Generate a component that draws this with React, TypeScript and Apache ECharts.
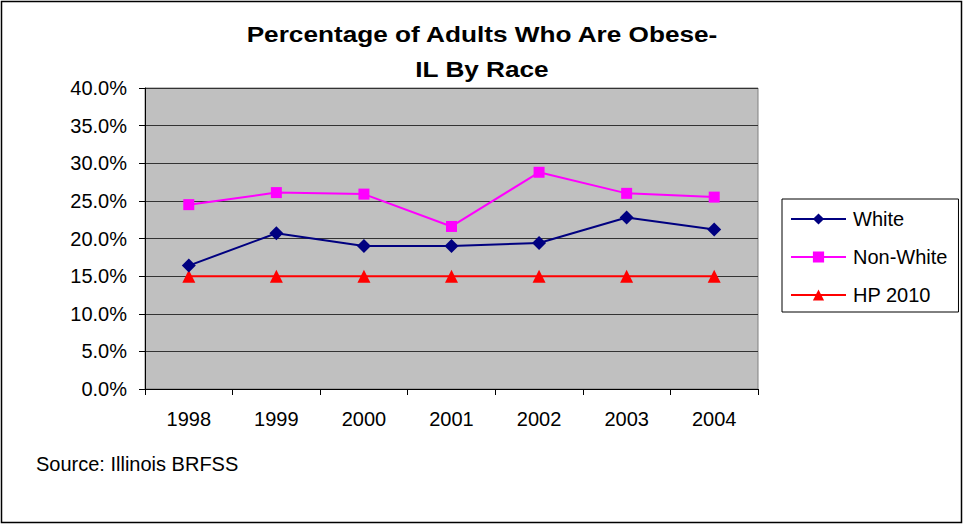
import React, { useEffect, useRef } from "react";
import * as echarts from "echarts";

const years = ["1998", "1999", "2000", "2001", "2002", "2003", "2004"];
const white = [16.4, 20.7, 19.0, 19.0, 19.4, 22.8, 21.2];
const nonWhite = [24.5, 26.1, 25.9, 21.6, 28.8, 26.0, 25.5];
const hp2010 = [15.0, 15.0, 15.0, 15.0, 15.0, 15.0, 15.0];
const titleLines = ["Percentage of Adults Who Are Obese-", "IL By Race"];
const sourceNote = "Source: Illinois BRFSS";

const FONT = "'Liberation Sans', Arial, sans-serif";

export default function App() {
  const ref = useRef<HTMLDivElement>(null);
  useEffect(() => {
    if (!ref.current) return;
    const chart = echarts.init(ref.current, undefined, { renderer: "svg" });
    chart.setOption({
      animation: false,
      backgroundColor: "#ffffff",
      textStyle: { fontFamily: FONT },
      graphic: [
        {
          type: "rect",
          shape: { x: 1.5, y: 1.5, width: 960, height: 521 },
          style: { fill: "none", stroke: "#000", lineWidth: 1.5 },
          silent: true,
        },
        ...titleLines.map((t, i) => ({
          type: "text",
          x: 482,
          y: 34 + i * 35,
          scaleX: 1.19,
          style: {
            text: t,
            font: `bold 22px ${FONT}`,
            fill: "#000",
            textAlign: "center",
            textVerticalAlign: "middle",
          },
        })),
        {
          type: "text",
          x: 36,
          y: 464,
          style: {
            text: sourceNote,
            font: `20px ${FONT}`,
            fill: "#000",
            textVerticalAlign: "middle",
          },
        },
      ],
      legend: {
        orient: "vertical",
        left: 782,
        top: 199,
        padding: [10, 11, 7, 8],
        itemGap: 18,
        itemWidth: 55,
        itemHeight: 14,
        borderColor: "#000",
        borderWidth: 1,
        backgroundColor: "#fff",
        textStyle: { fontFamily: FONT, fontSize: 20, color: "#000", padding: [0, 0, 0, 2] },
        data: ["White", "Non-White", "HP 2010"],
      },
      grid: {
        left: 145,
        top: 88,
        right: 206,
        bottom: 136,
        show: true,
        backgroundColor: "#c0c0c0",
        borderColor: "#808080",
        borderWidth: 1,
      },
      xAxis: {
        type: "category",
        data: years,
        boundaryGap: true,
        axisLine: { lineStyle: { color: "#000", width: 1 } },
        axisTick: { show: true, inside: false, length: 6, lineStyle: { color: "#000" } },
        axisLabel: { fontFamily: FONT, fontSize: 20, color: "#000", margin: 20 },
      },
      yAxis: {
        type: "value",
        min: 0,
        max: 40,
        interval: 5,
        axisLine: { show: true, lineStyle: { color: "#000", width: 1 } },
        axisTick: { show: true, length: 6, lineStyle: { color: "#000" } },
        axisLabel: {
          fontFamily: FONT,
          fontSize: 20,
          color: "#000",
          margin: 18,
          formatter: (v: number) => v.toFixed(1) + "%",
        },
        splitLine: { show: true, lineStyle: { color: "#333", width: 1 } },
      },
      series: [
        {
          name: "White",
          type: "line",
          data: white,
          symbol: "diamond",
          symbolSize: 14,
          itemStyle: { color: "#000080" },
          lineStyle: { color: "#000080", width: 2 },
          z: 4,
        },
        {
          name: "Non-White",
          type: "line",
          data: nonWhite,
          symbol: "rect",
          symbolSize: 11,
          itemStyle: { color: "#ff00ff" },
          lineStyle: { color: "#ff00ff", width: 2 },
          z: 3,
        },
        {
          name: "HP 2010",
          type: "line",
          data: hp2010,
          symbol: "triangle",
          symbolSize: 13,
          itemStyle: { color: "#ff0000" },
          lineStyle: { color: "#ff0000", width: 2 },
          z: 2,
        },
      ],
    });
    return () => chart.dispose();
  }, []);
  return (
    <div
      ref={ref}
      style={{ position: "fixed", left: 0, top: 0, width: 964, height: 525 }}
    />
  );
}
